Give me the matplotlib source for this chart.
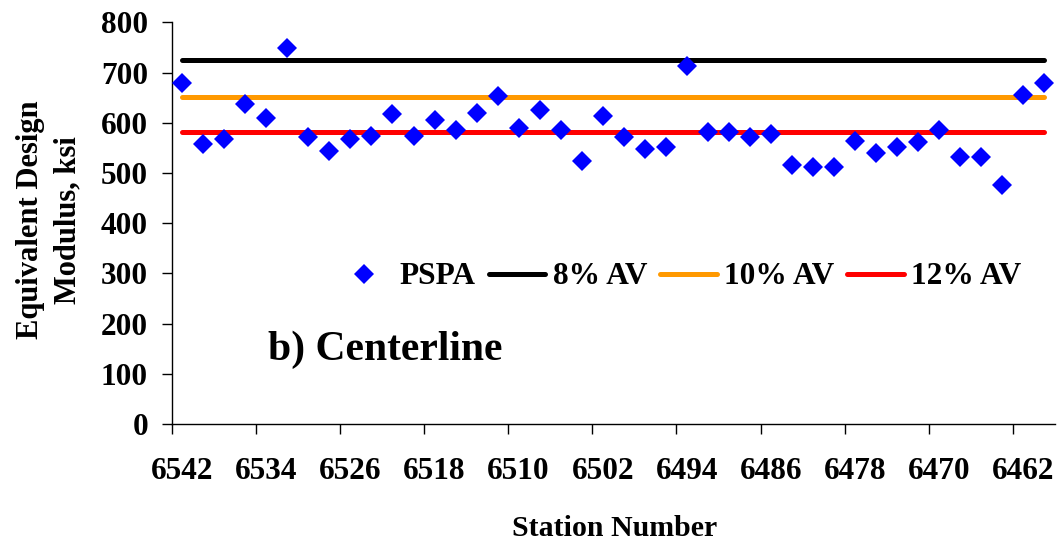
import matplotlib.pyplot as plt
import numpy as np

plt.rcParams['font.family'] = ['Liberation Serif', 'DejaVu Serif']
plt.rcParams['font.weight'] = 'bold'

# station tick labels (every 4th station, stations run 6542 -> 6460 in steps of 2)
tickLabels = ['6542', '6534', '6526', '6518', '6510', '6502',
              '6494', '6486', '6478', '6470', '6462']

# PSPA equivalent design modulus (ksi) at each station
pspa = [679, 558, 567, 637, 609, 750, 571, 543, 567, 574, 617, 574, 606, 586,
        620, 653, 590, 626, 586, 524, 613, 571, 547, 551, 714, 582, 582, 571,
        578, 516, 512, 512, 563, 539, 551, 562, 586, 532, 532, 477, 656, 680]

# modulus for the different air void levels
av8 = 726
av10 = 652
av12 = 582

n = len(pspa)
idx = np.arange(n)

fig = plt.figure(figsize=(10.61, 5.43), dpi=100)
ax = fig.add_axes([0.1618, 0.2192, 0.8325, 0.7395])

lw = 3.6
ax.plot(idx, [av8] * n, color='black', lw=lw, solid_capstyle='round', label='8% AV', zorder=2)
ax.plot(idx, [av10] * n, color='#FF9900', lw=lw, solid_capstyle='round', label='10% AV', zorder=2)
ax.plot(idx, [av12] * n, color='#FF0000', lw=lw, solid_capstyle='round', label='12% AV', zorder=2)
ax.plot(idx, pspa, linestyle='none', marker='D', ms=10, mew=0, color='#0000FF',
        label='PSPA', zorder=3)

ax.set_xlim(-0.5, n - 0.5)
ax.set_ylim(0, 800)
ax.set_yticks(np.arange(0, 801, 100))

# ticks sit between categories, labels under every 4th category
ax.set_xticks(np.arange(-0.5, n - 1, 4))
ax.set_xticklabels([])
ax.set_xticks(np.arange(0, n, 4), minor=True)
ax.set_xticklabels(tickLabels, minor=True)
ax.tick_params(axis='x', which='major', direction='out', length=7, width=1)
ax.tick_params(axis='x', which='minor', length=0, pad=24, labelsize=22.5)
ax.tick_params(axis='y', direction='out', length=7, width=1, pad=10, labelsize=22.5)

for s in ['top', 'right']:
    ax.spines[s].set_visible(False)
for s in ['left', 'bottom']:
    ax.spines[s].set_linewidth(1)

fig.text(49 / 1061, 1 - 220 / 543, 'Equivalent Design\nModulus, ksi', rotation=90,
         ha='center', va='center', fontsize=22, fontweight='bold', linespacing=1.4)
fig.text(615 / 1061, 1 - 528 / 543, 'Station Number', ha='center', va='center',
         fontsize=21.5, fontweight='bold')
fig.text(268 / 1061, 1 - 350 / 543, 'b) Centerline', ha='left', va='center',
         fontsize=30, fontweight='bold')

handles, labels = ax.get_legend_handles_labels()
order = [3, 0, 1, 2]
ax.legend([handles[i] for i in order], [labels[i] for i in order], ncol=4,
          loc='center left', bbox_to_anchor=(336 / 1061, 1 - 277 / 543),
          bbox_transform=fig.transFigure, frameon=False, fontsize=22.6,
          handlelength=1.8, handletextpad=0.23, columnspacing=0.42,
          borderpad=0, borderaxespad=0)

plt.savefig('out.png', dpi=100)
